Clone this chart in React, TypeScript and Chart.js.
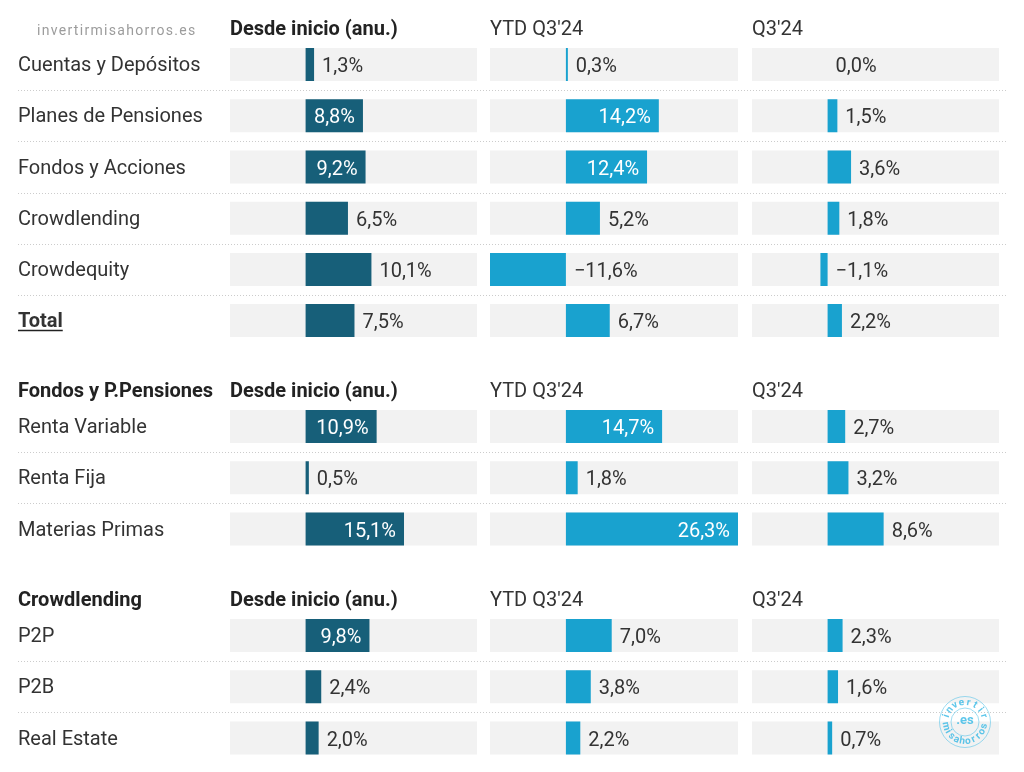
import React, { useEffect, useRef } from "react";
import { Chart, registerables } from "chart.js";

Chart.register(...registerables);

// ---------- data ----------
const COL_TITLES = ["Desde inicio (anu.)", "YTD Q3'24", "Q3'24"];
const WATERMARK = "invertirmisahorros.es";

const generalLabels = ["Cuentas y Depósitos", "Planes de Pensiones", "Fondos y Acciones", "Crowdlending", "Crowdequity", "Total"];
const generalDesde = [1.3, 8.8, 9.2, 6.5, 10.1, 7.5];
const generalYtd = [0.3, 14.2, 12.4, 5.2, -11.6, 6.7];
const generalQ3 = [0.0, 1.5, 3.6, 1.8, -1.1, 2.2];

const fondosTitle = "Fondos y P.Pensiones";
const fondosLabels = ["Renta Variable", "Renta Fija", "Materias Primas"];
const fondosDesde = [10.9, 0.5, 15.1];
const fondosYtd = [14.7, 1.8, 26.3];
const fondosQ3 = [2.7, 3.2, 8.6];

const crowdTitle = "Crowdlending";
const crowdLabels = ["P2P", "P2B", "Real Estate"];
const crowdDesde = [9.8, 2.4, 2.0];
const crowdYtd = [7.0, 3.8, 2.2];
const crowdQ3 = [2.3, 1.6, 0.7];

const SECTIONS = [
  { title: "", labels: generalLabels, cols: [generalDesde, generalYtd, generalQ3] },
  { title: fondosTitle, labels: fondosLabels, cols: [fondosDesde, fondosYtd, fondosQ3] },
  { title: crowdTitle, labels: crowdLabels, cols: [crowdDesde, crowdYtd, crowdQ3] },
];

const ALL_VALUES = SECTIONS.flatMap((s) => s.cols.flat());
const MIN = Math.min(...ALL_VALUES);
const MAX = Math.max(...ALL_VALUES);

// ---------- styling / layout ----------
const FONT = "Roboto, 'Noto Sans', sans-serif";
const FS = 20;
const COL_COLORS = ["#175f79", "#19a2cf", "#19a2cf"];
const BG_COLOR = "#f2f2f2";
const TEXT = "#333333";
const COL_WEIGHTS = [247, 248, 247];
const GAP_WEIGHTS = [13, 14];
const HEADER_H = 27;
const PITCH = 51.2;
const SECTION_GAP = 28;
const TOP0 = 12;
const W = 1024;

const fmt = (v: number) => (v < 0 ? "\u2212" : "") + Math.abs(v).toFixed(1).replace(".", ",") + "%";

function drawArcText(ctx: CanvasRenderingContext2D, text: string, cx: number, cy: number, r: number, center: number, step: number, top: boolean) {
  const n = text.length;
  for (let i = 0; i < n; i++) {
    const a = top ? center - (step * (n - 1)) / 2 + i * step : center + (step * (n - 1)) / 2 - i * step;
    ctx.save();
    ctx.translate(cx + r * Math.cos(a), cy + r * Math.sin(a));
    ctx.rotate(top ? a + Math.PI / 2 : a - Math.PI / 2);
    ctx.fillText(text[i], 0, 0);
    ctx.restore();
  }
}

function drawLogo(ctx: CanvasRenderingContext2D, cx: number, cy: number) {
  ctx.save();
  ctx.strokeStyle = "rgba(40,180,228,0.45)";
  ctx.fillStyle = "rgba(40,180,228,0.75)";
  ctx.lineWidth = 1;
  ctx.beginPath();
  ctx.arc(cx, cy, 25.5, 0, Math.PI * 2);
  ctx.stroke();
  ctx.beginPath();
  ctx.arc(cx, cy, 14, 0, Math.PI * 2);
  ctx.stroke();
  ctx.textAlign = "center";
  ctx.textBaseline = "middle";
  ctx.font = `bold 13px ${FONT}`;
  ctx.fillText(".es", cx, cy - 1);
  ctx.font = `bold 10px ${FONT}`;
  drawArcText(ctx, "invertir", cx, cy, 19.5, -Math.PI / 2, 0.36, true);
  drawArcText(ctx, "misahorros", cx, cy, 19.5, Math.PI / 2, 0.3, false);
  ctx.restore();
}

function Section({ idx, top }: { idx: number; top: number }) {
  const ref = useRef<HTMLCanvasElement>(null);
  const sec = SECTIONS[idx];
  const n = sec.labels.length;
  const areaH = n * PITCH;
  const H = Math.ceil(HEADER_H + areaH) + 16;

  useEffect(() => {
    const datasets: any[] = [];
    sec.cols.forEach((vals, k) => {
      datasets.push({
        label: "bg" + k,
        data: vals.map(() => [MIN, MAX]),
        xAxisID: "x" + k,
        yAxisID: "y",
        backgroundColor: BG_COLOR,
        order: 10,
        grouped: false,
        barPercentage: 1,
        categoryPercentage: 33 / PITCH,
        isBg: true,
      });
      datasets.push({
        label: COL_TITLES[k],
        data: vals,
        xAxisID: "x" + k,
        yAxisID: "y",
        backgroundColor: COL_COLORS[k],
        order: 1,
        grouped: false,
        barPercentage: 1,
        categoryPercentage: 33 / PITCH,
      });
    });

    const scales: any = {
      y: {
        type: "category",
        position: "left",
        grid: { display: false, drawTicks: false },
        border: { display: false },
        ticks: {
          crossAlign: "far",
          padding: 0,
          autoSkip: false,
          labelOffset: 1.5,
          color: TEXT,
          font: (c: any) => ({
            family: FONT,
            size: FS,
            weight: sec.labels[c.index] === "Total" ? "bold" : "normal",
          }),
        },
        afterFit: (s: any) => {
          s.width = 212;
        },
      },
    };
    COL_TITLES.forEach((t, k) => {
      scales["x" + k] = {
        type: "linear",
        axis: "x",
        position: "top",
        min: MIN,
        max: MAX,
        stack: "cols",
        stackWeight: COL_WEIGHTS[k],
        weight: 10 - 2 * k,
        ticks: { display: false },
        grid: { display: false, drawTicks: false },
        border: { display: false },
        title: {
          display: true,
          text: t,
          align: "start",
          color: k === 0 ? "#222" : TEXT,
          font: { family: FONT, size: FS, weight: k === 0 ? "bold" : "normal", lineHeight: 0.9 },
          padding: { top: 9.3, bottom: -0.3 },
        },
      };
      if (k < 2) {
        scales["g" + k] = {
          type: "linear",
          axis: "x",
          position: "top",
          min: 0,
          max: 1,
          stack: "cols",
          stackWeight: GAP_WEIGHTS[k],
          weight: 9 - 2 * k,
          ticks: { display: false },
          grid: { display: false, drawTicks: false },
          border: { display: false },
        };
      }
    });

    const decor = {
      id: "decor",
      beforeDatasetsDraw(chart: any) {
        const ctx = chart.ctx;
        const ys = chart.scales.y;
        ctx.save();
        ctx.strokeStyle = "#cccccc";
        ctx.lineWidth = 1;
        ctx.setLineDash([1, 2]);
        for (let i = 1; i < n; i++) {
          const y = Math.round((ys.getPixelForTick(i - 1) + ys.getPixelForTick(i)) / 2) + 0.5;
          ctx.beginPath();
          ctx.moveTo(18, y);
          ctx.lineTo(chart.chartArea.right + 7, y);
          ctx.stroke();
        }
        ctx.restore();
      },
      afterDatasetsDraw(chart: any) {
        const ctx = chart.ctx;
        ctx.save();
        ctx.font = `${FS}px ${FONT}`;
        ctx.textBaseline = "middle";
        chart.data.datasets.forEach((ds: any, di: number) => {
          if (ds.isBg) return;
          const meta = chart.getDatasetMeta(di);
          meta.data.forEach((el: any, i: number) => {
            const v = ds.data[i];
            const { x, base, y } = el.getProps(["x", "base", "y"], true);
            const text = fmt(v);
            const tw = ctx.measureText(text).width;
            const w = Math.abs(x - base);
            if (v > 0 && w > tw + 16) {
              ctx.fillStyle = "#ffffff";
              ctx.textAlign = "right";
              ctx.fillText(text, x - 8, y + 2.5);
            } else {
              ctx.fillStyle = TEXT;
              ctx.textAlign = "left";
              ctx.fillText(text, Math.max(x, base) + 8, y + 2.5);
            }
          });
        });
        ctx.restore();
      },
      afterDraw(chart: any) {
        const ctx = chart.ctx;
        const ys = chart.scales.y;
        const hy = chart.chartArea.top - 8.7;
        ctx.save();
        ctx.textBaseline = "middle";
        ctx.textAlign = "left";
        if (sec.title) {
          ctx.font = `bold ${FS}px ${FONT}`;
          ctx.fillStyle = "#222";
          ctx.fillText(sec.title, 18, hy);
        } else {
          ctx.font = `14px ${FONT}`;
          ctx.fillStyle = "#9c9c9c";
          (ctx as any).letterSpacing = "1.3px";
          ctx.fillText(WATERMARK, 37, hy + 1.5);
          (ctx as any).letterSpacing = "0px";
        }
        const ti = sec.labels.indexOf("Total");
        if (ti >= 0) {
          ctx.font = `bold ${FS}px ${FONT}`;
          const tw = ctx.measureText("Total").width;
          const y = Math.round(ys.getPixelForTick(ti) + 9) + 0.5;
          ctx.strokeStyle = "#222";
          ctx.lineWidth = 1.5;
          ctx.beginPath();
          ctx.moveTo(18, y);
          ctx.lineTo(18 + tw, y);
          ctx.stroke();
        }
        if (idx === SECTIONS.length - 1) {
          drawLogo(ctx, 965, 722 - top);
        }
        ctx.restore();
      },
    };

    const chart = new Chart(ref.current as HTMLCanvasElement, {
      type: "bar",
      data: { labels: sec.labels, datasets },
      options: {
        indexAxis: "y",
        responsive: false,
        maintainAspectRatio: false,
        animation: false,
        events: [],
        layout: { padding: { left: 18, right: W - 999, top: 0, bottom: H - HEADER_H - areaH } },
        plugins: { legend: { display: false }, tooltip: { enabled: false } },
        scales,
      } as any,
      plugins: [decor],
    });
    return () => chart.destroy();
  }, []);

  return (
    <canvas
      ref={ref}
      width={W}
      height={H}
      style={{ position: "absolute", left: 0, top, width: W, height: H }}
    />
  );
}

export default function App() {
  const tops: number[] = [];
  let t = TOP0;
  SECTIONS.forEach((s) => {
    tops.push(Math.round(t));
    t += HEADER_H + s.labels.length * PITCH + SECTION_GAP;
  });
  return (
    <div style={{ position: "absolute", left: 0, top: 0, width: W, height: 772, background: "#fff", overflow: "hidden" }}>
      {SECTIONS.map((s, i) => (
        <Section key={i} idx={i} top={tops[i]} />
      ))}
    </div>
  );
}
